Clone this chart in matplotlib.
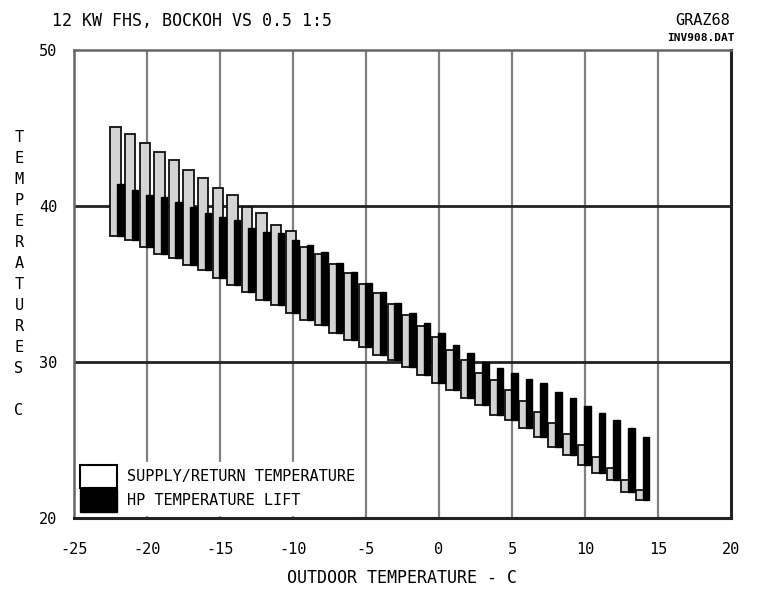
import numpy as np
import matplotlib.pyplot as plt
from matplotlib.patches import Patch

# outdoor temperature steps (C)
outdoor = np.arange(-22, 15)

# supply / return water temperatures
supply = [45.06, 44.62, 44.04, 43.46, 42.95, 42.31, 41.79, 41.15, 40.71, 39.96,
          39.55, 38.78, 38.4, 37.4, 36.9, 36.3, 35.7, 35.0, 34.4, 33.7,
          33.0, 32.3, 31.6, 30.8, 30.1, 29.3, 28.85, 28.2, 27.5, 26.8,
          26.1, 25.4, 24.7, 23.9, 23.2, 22.45, 21.8]
ret = [38.08, 37.82, 37.37, 36.92, 36.67, 36.22, 35.9, 35.38, 34.94, 34.51,
       33.97, 33.65, 33.14, 32.69, 32.37, 31.86, 31.41, 30.98, 30.45, 30.13,
       29.7, 29.17, 28.65, 28.21, 27.69, 27.24, 26.6, 26.28, 25.77, 25.21,
       24.57, 24.04, 23.4, 22.88, 22.44, 21.67, 21.15]

# heat pump lift: from return temp up to condenser outlet
lift_top = [41.41, 41.03, 40.71, 40.58, 40.26, 39.94, 39.55, 39.29, 39.1, 38.59,
            38.35, 38.27, 37.82, 37.5, 37.07, 36.35, 35.77, 35.06, 34.51, 33.78,
            33.14, 32.5, 31.86, 31.09, 30.58, 30.02, 29.62, 29.29, 28.91, 28.65,
            28.1, 27.69, 27.21, 26.73, 26.28, 25.77, 25.19]

xticks = [-25, -20, -15, -10, -5, 0, 5, 10, 15, 20]
yticks = [20, 30, 40, 50]

mono = 'DejaVu Sans Mono'
plt.rcParams['font.family'] = mono
plt.rcParams['axes.unicode_minus'] = False

fig = plt.figure(figsize=(7.59, 5.91), dpi=100)
ax = fig.add_axes([0.0975, 0.1235, 0.8655, 0.7919])

supply = np.array(supply)
ret = np.array(ret)
lift_top = np.array(lift_top)

ax.bar(outdoor - 0.15, supply - ret, bottom=ret, width=0.7,
       facecolor='#d4d4d4', edgecolor='#111111', linewidth=1.3, zorder=3)
ax.bar(outdoor + 0.175, lift_top - ret, bottom=ret, width=0.45,
       facecolor='black', edgecolor='black', linewidth=1.0, zorder=4)

ax.set_xlim(-25, 20)
ax.set_ylim(20, 50)
ax.set_xticks(xticks)
ax.set_yticks(yticks)
ax.tick_params(length=0, labelsize=11)
ax.tick_params(axis='x', pad=17)
ax.tick_params(axis='y', pad=12)

for xv in xticks[1:-1]:
    ax.axvline(xv, color='#808080', lw=1.6, zorder=1)
for yv in [30, 40]:
    ax.axhline(yv, color='#222222', lw=2.0, zorder=1)

for side in ['left', 'top']:
    ax.spines[side].set_color('#666666')
    ax.spines[side].set_linewidth(1.8)
for side in ['bottom', 'right']:
    ax.spines[side].set_color('#222222')
    ax.spines[side].set_linewidth(2.2)

handles = [Patch(facecolor='white', edgecolor='black', lw=1.5),
           Patch(facecolor='black', edgecolor='black')]
leg = ax.legend(handles, ['SUPPLY/RETURN TEMPERATURE', 'HP TEMPERATURE LIFT'],
                loc='lower left', bbox_to_anchor=(0.0, 0.0), frameon=True,
                fontsize=11, handlelength=2.4, handleheight=1.9,
                handletextpad=0.7, labelspacing=0.1, borderpad=0.2,
                borderaxespad=0.2)
leg.get_frame().set_edgecolor('white')
leg.get_frame().set_alpha(1.0)
leg.set_zorder(5)

ax.set_xlabel('OUTDOOR TEMPERATURE - C', fontsize=12, labelpad=9)

fig.text(0.025, 0.537, '\n'.join('TEMPERATURES C'), fontsize=11,
         ha='center', va='center', linespacing=1.5)

fig.text(0.068, 0.965, '12 KW FHS, BOCKOH VS 0.5 1:5', fontsize=12,
         ha='left', va='center')
fig.text(0.962, 0.965, 'GRAZ68', fontsize=11, ha='right', va='center')
fig.text(0.968, 0.936, 'INV908.DAT', fontsize=8, fontweight='bold',
         ha='right', va='center')

fig.savefig('out.png', dpi=100)
